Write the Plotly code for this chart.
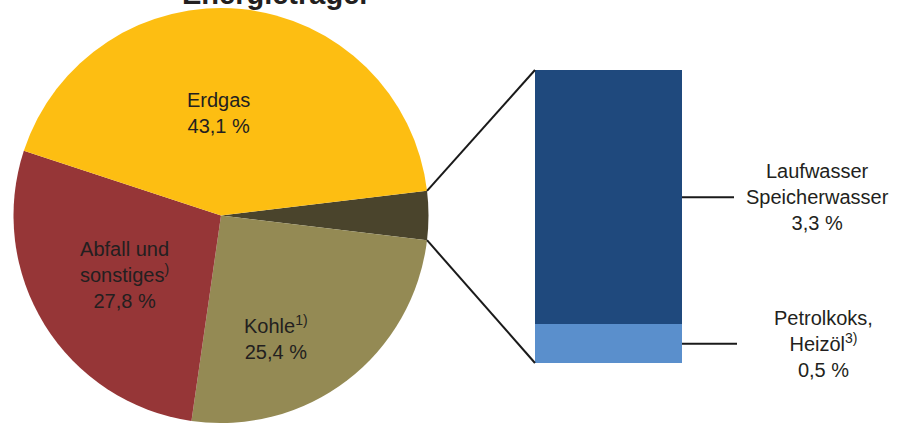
import math
import plotly.graph_objects as go

W, H = 901, 423

# ---- data ----
pie_labels = ["Wasser/Petrolkoks", "Kohle", "Abfall und sonstiges", "Erdgas"]
pie_label_text = ["", "Kohle<sup>1)</sup><br>25,4 %", "Abfall und<br>sonstiges<sup>)</sup><br>27,8 %", "Erdgas<br>43,1 %"]
bar_labels = ["Petrolkoks, Heizöl", "Laufwasser Speicherwasser"]
bar_values = [0.5, 3.3]
bar_label_text = ["Petrolkoks,<br>Heizöl<sup>3)</sup><br>0,5 %", "Laufwasser<br>Speicherwasser<br>3,3 %"]
pie_values = [sum(bar_values), 25.4, 27.8, 43.1]

pie_colors = ["#4A442C", "#948A54", "#963637", "#FDBE12"]
bar_colors = ["#5A8FCC", "#1F497D"]
TXT = "#231F20"
FONT = "Liberation Sans, Arial, sans-serif"
FS = 20


def px(x):
    return x / W


def py(y):
    return 1 - y / H


# pie geometry (pixels)
pie_x = (12, 430)
pie_y = (8, 423)
cx = (pie_x[0] + pie_x[1]) / 2
cy = (pie_y[0] + pie_y[1]) / 2
r = min(pie_x[1] - pie_x[0], pie_y[1] - pie_y[0]) / 2

total = sum(pie_values)
half_deg = pie_values[0] / total * 360 / 2
rotation = 90 - half_deg

# bar geometry (pixels)
bar_x = (535, 682)
bar_y = (70, 363)
bar_total = sum(bar_values)

fig = go.Figure()
fig.add_trace(go.Pie(
    labels=pie_labels, values=pie_values, sort=False, direction="clockwise",
    rotation=rotation, marker=dict(colors=pie_colors, line=dict(width=0)),
    textinfo="none", hoverinfo="label+value", showlegend=False,
    domain=dict(x=[px(pie_x[0]), px(pie_x[1])], y=[py(pie_y[1]), py(pie_y[0])]),
))

for lab, val, col in zip(bar_labels, bar_values, bar_colors):
    fig.add_trace(go.Bar(
        x=[0], y=[val], width=[1], name=lab, marker=dict(color=col, line=dict(width=0)),
        showlegend=False, xaxis="x", yaxis="y",
    ))

# connector lines from the pie slice edges to the bar corners
ang_top = math.radians(half_deg)
ang_bot = math.radians(-half_deg)
p_top = (cx + r * math.cos(ang_top), cy - r * math.sin(ang_top))
p_bot = (cx + r * math.cos(ang_bot), cy - r * math.sin(ang_bot))
shapes = [
    dict(type="line", xref="paper", yref="paper", x0=px(p_top[0]), y0=py(p_top[1]),
         x1=px(bar_x[0]), y1=py(bar_y[0]), line=dict(color="#1A1A1A", width=2)),
    dict(type="line", xref="paper", yref="paper", x0=px(p_bot[0]), y0=py(p_bot[1]),
         x1=px(bar_x[0]), y1=py(bar_y[1]), line=dict(color="#1A1A1A", width=2)),
]

annotations = []
# leader lines + labels for bar segments
lead_end = [737, 734]
label_x = [823, 817]
cum = 0
for val, txt, le, lx in zip(bar_values, bar_label_text, lead_end, label_x):
    mid = cum + val / 2
    cum += val
    shapes.append(dict(type="line", xref="paper", yref="y", x0=px(bar_x[1]), x1=px(le),
                       y0=mid, y1=mid, line=dict(color="#1A1A1A", width=2)))
    annotations.append(dict(xref="paper", yref="y", x=px(lx), y=mid, text=txt, showarrow=False,
                            font=dict(family=FONT, size=FS, color=TXT), align="center",
                            xanchor="center", yanchor="middle"))

# pie labels
pie_label_pos = [None, (276, 337), (124, 275), (218, 113)]
for txt, pos in zip(pie_label_text, pie_label_pos):
    if pos is None:
        continue
    annotations.append(dict(xref="paper", yref="paper", x=px(pos[0]), y=py(pos[1]), text=txt,
                            showarrow=False, font=dict(family=FONT, size=FS, color=TXT),
                            align="center", xanchor="center", yanchor="middle"))

# title (partially cut off at the top)
annotations.append(dict(xref="paper", yref="paper", x=px(276), y=py(12), text="<b>Energieträger</b>",
                        showarrow=False, font=dict(family=FONT, size=29, color=TXT),
                        xanchor="center", yanchor="bottom"))

fig.update_layout(
    width=W, height=H, margin=dict(l=0, r=0, t=0, b=0),
    paper_bgcolor="white", plot_bgcolor="white", barmode="stack", bargap=0,
    xaxis=dict(domain=[px(bar_x[0]), px(bar_x[1])], range=[-0.5, 0.5], visible=False, fixedrange=True),
    yaxis=dict(domain=[py(bar_y[1]), py(bar_y[0])], range=[0, bar_total], visible=False, fixedrange=True),
    shapes=shapes, annotations=annotations,
)

fig.write_html("out.html", config={"displayModeBar": False},
               post_script="document.body.style.margin='0';document.body.style.overflow='hidden';")
